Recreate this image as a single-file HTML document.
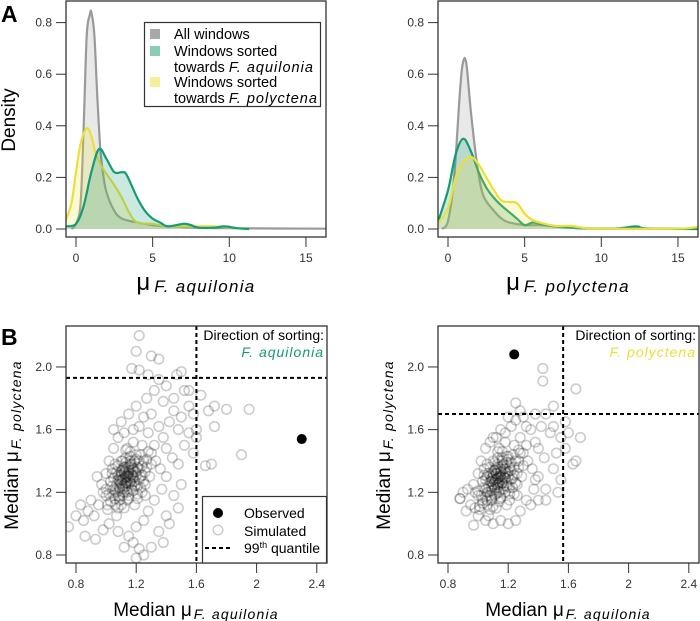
<!DOCTYPE html>
<html><head><meta charset="utf-8">
<style>
html,body{margin:0;padding:0;background:#fff;}
svg{display:block;font-family:"Liberation Sans",Arial,sans-serif;}
.tk{font-size:12px;fill:#333;}
</style></head>
<body>
<svg id="fig" width="700" height="621" viewBox="0 0 700 621" xmlns="http://www.w3.org/2000/svg">
<text x="1" y="22" font-size="23" font-weight="bold">A</text>
<text x="1" y="345" font-size="23" font-weight="bold">B</text>
<g id="layer"></g>
</svg>
<script>
// ---- density data (panel A) ----
const xAllA = [-0.3,0,0.3,0.5,0.7,0.9,1.0,1.2,1.4,1.6,1.8,2.0,2.5,3,4,5,6,8,10,16.4];
const yAllA = [0,0.02,0.1,0.4,0.75,0.83,0.84,0.75,0.5,0.3,0.2,0.14,0.07,0.04,0.025,0.015,0.01,0.005,0.003,0.001];
const xPolA = [-0.7,-0.3,0,0.3,0.7,1.0,1.3,1.8,2.5,3,3.5,4,5,6,7,8,9,10,11];
const yPolA = [0.03,0.1,0.22,0.33,0.39,0.36,0.29,0.23,0.17,0.12,0.06,0.025,0.02,0.01,0.01,0.01,0.01,0.005,0.003];
const xAquA = [-0.7,0,0.5,1,1.5,2,2.5,3,3.3,4,4.5,5,5.5,6,7,7.5,8,9,9.7,10.5,11.3];
const yAquA = [0.01,0.02,0.09,0.22,0.31,0.27,0.22,0.22,0.21,0.12,0.07,0.04,0.025,0.01,0.02,0.015,0.005,0.005,0.01,0.003,0];
// ---- density data (panel A right) ----
const xAllB = [-0.4,0,0.4,0.8,1.0,1.2,1.5,1.9,2.3,3,3.5,4,5,6,7,8,10,16.4];
const yAllB = [0,0.03,0.2,0.55,0.65,0.64,0.45,0.25,0.13,0.07,0.04,0.025,0.015,0.015,0.01,0.005,0.002,0];
const xAquB = [-0.7,0,0.5,1,1.5,2,2.5,3,3.5,4,4.5,5,5.5,6,7,8,9,11,12.3,13,16.4];
const yAquB = [0.02,0.15,0.29,0.35,0.3,0.22,0.16,0.12,0.09,0.065,0.04,0.015,0.025,0.02,0.01,0.005,0.002,0.002,0.01,0.002,0];
const xPolB = [-0.7,0,0.5,1,1.5,2,2.5,3,3.5,4,4.5,5,5.5,6,7,8,9,10,15,16.4];
const yPolB = [0.02,0.08,0.2,0.26,0.28,0.25,0.2,0.15,0.11,0.105,0.1,0.06,0.035,0.025,0.012,0.012,0.003,0.001,0.001,0.01];
const densXTicks = [0,5,10,15];
const densYTicks = ["0.0","0.2","0.4","0.6","0.8"];
// ---- scatter data (panel B) ----
const simLeft = [[1.15,1.30],[1.10,1.28],[1.20,1.33],[1.12,1.25],[1.18,1.35],[1.05,1.22],[1.25,1.40],[1.08,1.31],[1.14,1.20],[1.22,1.28],[1.00,1.18],[1.30,1.45],[1.17,1.38],[1.11,1.34],[1.09,1.15],[1.19,1.24],[1.13,1.42],[1.24,1.31],[1.03,1.27],[1.27,1.36],[1.06,1.12],[1.16,1.46],[1.21,1.19],[1.10,1.40],[0.98,1.20],[1.32,1.50],[1.12,1.10],[1.26,1.25],[1.04,1.35],[1.18,1.52],[1.07,1.05],[1.15,1.16],[1.23,1.44],[1.01,1.09],[1.29,1.30],[1.13,1.29],[1.16,1.26],[1.09,1.23],[1.20,1.41],[1.11,1.18],[0.95,1.12],[0.92,1.05],[0.90,1.15],[0.88,1.08],[0.97,1.25],[0.94,1.30],[1.02,1.40],[1.05,1.48],[1.08,1.55],[1.12,1.58],[1.18,1.60],[1.22,1.62],[1.25,1.68],[1.30,1.70],[1.28,1.58],[1.35,1.62],[1.38,1.55],[1.33,1.40],[1.36,1.35],[1.40,1.48],[1.42,1.65],[1.45,1.72],[1.48,1.60],[1.44,1.42],[1.40,1.30],[1.37,1.22],[1.32,1.15],[1.28,1.08],[1.25,1.02],[1.20,0.98],[1.15,0.92],[1.18,0.88],[1.22,0.84],[1.12,0.85],[1.08,0.95],[1.02,1.00],[0.98,0.96],[0.85,1.02],[0.83,1.12],[0.80,1.05],[0.75,0.98],[0.86,0.92],[0.93,0.90],[1.30,0.85],[1.20,0.78],[1.25,0.80],[1.35,0.95],[1.40,1.05],[1.45,1.18],[1.50,1.25],[1.48,1.38],[1.52,1.50],[1.55,1.58],[1.50,1.68],[1.55,1.75],[1.45,1.80],[1.38,1.78],[1.32,1.85],[1.27,1.80],[1.20,1.75],[1.15,1.70],[1.10,1.65],[1.05,1.60],[1.35,1.92],[1.28,1.95],[1.40,1.88],[1.47,1.95],[1.52,1.85],[1.22,1.98],[1.17,1.99],[1.30,2.07],[1.20,2.10],[1.22,2.20],[1.35,2.05],[1.50,1.97],[1.55,1.85],[1.58,1.70],[1.60,1.60],[1.63,1.82],[1.68,1.72],[1.72,1.75],[1.80,1.73],[1.95,1.73],[1.72,1.62],[1.90,1.44],[1.70,1.38],[1.66,1.37],[1.58,1.45],[1.60,1.55],[1.48,1.10],[1.42,1.00],[1.38,0.88],[1.00,1.32],[1.06,1.38],[1.14,1.48],[1.24,1.50],[1.26,1.18],[1.19,1.12],[1.07,1.20],[1.13,1.36],[1.17,1.22],[1.21,1.36],[1.09,1.27],[1.15,1.33],[1.11,1.22],[1.14,1.26],[1.18,1.29],[1.12,1.32],[1.16,1.40],[1.08,1.18],[1.23,1.23]];
const coreLeft = [[1.13,1.30],[1.15,1.32],[1.11,1.28],[1.17,1.31],[1.14,1.27],[1.12,1.33],[1.16,1.29],[1.10,1.26],[1.18,1.34],[1.13,1.24],[1.09,1.30],[1.19,1.27],[1.15,1.36],[1.11,1.35],[1.14,1.22],[1.07,1.25],[1.20,1.31],[1.12,1.20],[1.16,1.38],[1.08,1.28],[1.22,1.35],[1.10,1.33],[1.17,1.25],[1.06,1.21],[1.13,1.39],[1.21,1.24],[1.05,1.29],[1.19,1.40],[1.09,1.17],[1.15,1.18],[1.23,1.30],[1.04,1.24],[1.18,1.21],[1.11,1.40],[1.24,1.37],[1.07,1.33],[1.14,1.15],[1.02,1.19],[1.20,1.44],[1.26,1.33],[1.03,1.14],[1.16,1.43],[1.10,1.12],[1.27,1.41],[1.08,1.37],[1.21,1.16],[1.00,1.22],[1.13,1.47],[1.25,1.27],[1.06,1.16],[1.12,1.29],[1.14,1.31],[1.16,1.27],[1.10,1.31],[1.18,1.30],[1.13,1.26],[1.15,1.34],[1.11,1.24],[1.17,1.36],[1.12,1.36],[1.09,1.22],[1.19,1.33],[1.05,1.18],[1.22,1.40],[1.08,1.10],[1.28,1.46],[1.01,1.12],[1.24,1.20],[1.04,1.32],[1.30,1.38]];
const simRight = [[1.15,1.30],[1.10,1.28],[1.20,1.33],[1.12,1.25],[1.18,1.35],[1.05,1.22],[1.25,1.40],[1.08,1.31],[1.14,1.20],[1.22,1.28],[1.00,1.18],[1.30,1.45],[1.17,1.38],[1.11,1.34],[1.09,1.15],[1.19,1.24],[1.13,1.42],[1.24,1.31],[1.03,1.27],[1.27,1.36],[1.06,1.12],[1.16,1.46],[1.21,1.19],[1.10,1.40],[0.98,1.20],[1.32,1.50],[1.12,1.10],[1.26,1.25],[1.04,1.35],[1.18,1.52],[1.07,1.05],[1.15,1.16],[1.23,1.44],[1.01,1.09],[1.29,1.30],[1.13,1.29],[1.16,1.26],[1.09,1.23],[1.20,1.41],[1.11,1.18],[0.95,1.12],[0.92,1.08],[0.90,1.20],[0.88,1.16],[0.97,1.25],[0.97,0.99],[1.02,1.40],[1.05,1.48],[1.08,1.52],[1.12,1.55],[1.18,1.58],[1.22,1.62],[1.25,1.66],[1.30,1.68],[1.28,1.55],[1.35,1.60],[1.38,1.52],[1.33,1.40],[1.36,1.35],[1.40,1.48],[1.42,1.62],[1.45,1.70],[1.48,1.58],[1.44,1.42],[1.40,1.30],[1.37,1.22],[1.32,1.15],[1.28,1.08],[1.25,1.02],[1.20,1.00],[1.15,1.02],[1.10,1.00],[1.05,1.02],[1.00,1.05],[0.98,1.10],[1.25,1.77],[1.50,1.75],[1.43,1.99],[1.43,1.91],[1.65,1.86],[1.68,1.55],[1.65,1.40],[1.63,1.38],[1.58,1.48],[1.55,1.55],[1.52,1.45],[1.50,1.35],[1.55,1.28],[1.45,1.22],[1.40,1.15],[1.35,1.12],[1.38,1.28],[1.32,1.62],[1.38,1.70],[1.28,1.72],[1.20,1.68],[1.15,1.60],[1.10,1.55],[1.50,1.62],[1.58,1.65],[1.60,1.58],[1.53,1.20],[1.45,1.15],[0.88,1.16],[0.93,1.22],[1.00,1.32],[1.06,1.38],[1.14,1.48],[1.24,1.50],[1.26,1.18],[1.19,1.12],[1.07,1.20],[1.13,1.36],[1.17,1.22],[1.21,1.36],[1.09,1.27],[1.15,1.33],[1.11,1.22],[1.14,1.26],[1.18,1.29],[1.12,1.32],[1.16,1.40],[1.08,1.18],[1.23,1.23],[1.03,1.15],[1.06,1.30],[1.19,1.43],[1.27,1.47]];
const coreRight = [[1.13,1.29],[1.15,1.31],[1.11,1.27],[1.17,1.30],[1.14,1.26],[1.12,1.32],[1.16,1.28],[1.10,1.25],[1.18,1.33],[1.13,1.23],[1.09,1.29],[1.19,1.26],[1.15,1.35],[1.11,1.34],[1.14,1.21],[1.07,1.24],[1.20,1.30],[1.12,1.19],[1.16,1.37],[1.08,1.27],[1.22,1.34],[1.10,1.32],[1.17,1.24],[1.06,1.20],[1.13,1.38],[1.21,1.23],[1.05,1.28],[1.19,1.39],[1.09,1.16],[1.15,1.17],[1.23,1.29],[1.04,1.23],[1.18,1.20],[1.11,1.39],[1.24,1.36],[1.07,1.32],[1.14,1.14],[1.02,1.18],[1.20,1.43],[1.26,1.32],[1.03,1.13],[1.16,1.42],[1.10,1.11],[1.27,1.40],[1.08,1.36],[1.21,1.15],[1.00,1.21],[1.13,1.46],[1.25,1.26],[1.06,1.15],[1.12,1.28],[1.14,1.30],[1.16,1.26],[1.10,1.30],[1.18,1.29],[1.13,1.25],[1.15,1.33],[1.11,1.23],[1.17,1.35],[1.12,1.35],[1.09,1.21],[1.19,1.32],[1.05,1.17],[1.22,1.39],[1.08,1.09],[1.28,1.45],[1.01,1.11],[1.24,1.19],[1.04,1.31],[1.30,1.37]];
const obsLeft = [2.30,1.54];
const obsRight = [1.24,2.08];
const thrLeft = [1.60,1.93];
const thrRight = [1.565,1.70];
const scatXTicks = ["0.8","1.2","1.6","2","2.4"];
const scatYTicks = ["0.8","1.2","1.6","2.0"];

const NS="http://www.w3.org/2000/svg";
const layer=document.getElementById('layer');
function mk(tag,attrs,parent){const e=document.createElementNS(NS,tag);for(const k in attrs)e.setAttribute(k,attrs[k]);(parent||layer).appendChild(e);return e;}

const GREEN="#149c73", YELLOW="#ebe03a", GRAY="#9a9a9a";

function smoothPath(P){
  let d='M'+P[0][0].toFixed(1)+','+P[0][1].toFixed(1);
  for(let i=0;i<P.length-1;i++){
    const p0=P[Math.max(0,i-1)],p1=P[i],p2=P[i+1],p3=P[Math.min(P.length-1,i+2)];
    const c1x=p1[0]+(p2[0]-p0[0])/6, c1y=Math.min(229,p1[1]+(p2[1]-p0[1])/6);
    const c2x=p2[0]-(p3[0]-p1[0])/6, c2y=Math.min(229,p2[1]-(p3[1]-p1[1])/6);
    d+='C'+c1x.toFixed(1)+','+c1y.toFixed(1)+' '+c2x.toFixed(1)+','+c2y.toFixed(1)+' '+p2[0].toFixed(1)+','+p2[1].toFixed(1);
  }
  return d;
}

function densPanel(ox, curves, xlabSub, nm){
  const L=ox, R=ox+260, T=1, B=237;
  const sx=v=>ox+10+(v)*15.33, sy=v=>229-v*258;
  const g=mk('g',{});
  
  
  const cp=mk('clipPath',{id:'clip'+nm},g); mk('rect',{x:L,y:T,width:R-L,height:B-T},cp);
  curves.forEach(c=>{
    const P=c.x.map((v,i)=>[sx(v),sy(c.y[i])]);
    const d=smoothPath(P);
    const clipd=d+'L'+sx(c.x[c.x.length-1]).toFixed(1)+','+sy(0)+'L'+sx(c.x[0]).toFixed(1)+','+sy(0)+'Z';
    const f=mk('path',{d:clipd,fill:c.col,'fill-opacity':0.22,stroke:'none','clip-path':'url(#clip'+nm+')'},g);
    
    
    const p=mk('path',{d:d,fill:'none',stroke:c.col,'stroke-width':2.2,'clip-path':'url(#clip'+nm+')'},g);
    
    
  });
  mk('rect',{x:L,y:T,width:R-L,height:B-T,fill:'none',stroke:'#333','stroke-width':1.3},g);
  densXTicks.forEach(t=>{const x=sx(t);mk('line',{x1:x,x2:x,y1:B,y2:B+10,stroke:'#333'},g);
    const tt=mk('text',{x:x,y:B+25,'text-anchor':'middle',class:'tk'},g);tt.textContent=t;
    });
  densYTicks.forEach(t=>{const y=sy(+t);mk('line',{x1:L,x2:L-10,y1:y,y2:y,stroke:'#333'},g);
    const tt=mk('text',{x:L-14,y:y+4,'text-anchor':'end',class:'tk'},g);tt.textContent=t;
    });
  const xl=mk('text',{x:ox+130,y:290,'text-anchor':'middle'},g);
  xl.innerHTML='<tspan font-size="24">μ</tspan><tspan font-size="17" font-style="italic" letter-spacing="1.3" dx="4" dy="2">'+xlabSub+'</tspan>';
  
  return g;
}

function scatPanel(ox, pts, core, obs, thr, nm){
  const L=ox, R=ox+261, T=326, B=563;
  const sx=v=>ox+10+(v-0.8)*150.5, sy=v=>555-(v-0.8)*156.7;
  const g=mk('g',{});
  
  
  const cp=mk('clipPath',{id:'clip'+nm},g); mk('rect',{x:L,y:T,width:R-L,height:B-T},cp);
  const pg=mk('g',{'clip-path':'url(#clip'+nm+')'},g);
  pts.concat(core).forEach(p=>{const c=mk('circle',{cx:sx(p[0]).toFixed(1),cy:sy(p[1]).toFixed(1),r:4.8,fill:'none',stroke:'#000','stroke-opacity':0.2,'stroke-width':1.6},pg);
    });
  const o=mk('circle',{cx:sx(obs[0]),cy:sy(obs[1]),r:5,fill:'#000'},g);
  
  const v=mk('line',{x1:sx(thr[0]),x2:sx(thr[0]),y1:T,y2:B,stroke:'#000','stroke-width':2,'stroke-dasharray':'4,3'},g);
  
  const h=mk('line',{x1:L,x2:R,y1:sy(thr[1]),y2:sy(thr[1]),stroke:'#000','stroke-width':2,'stroke-dasharray':'4,3'},g);
  
  mk('rect',{x:L,y:T,width:R-L,height:B-T,fill:'none',stroke:'#333','stroke-width':1.3},g);
  scatXTicks.forEach(t=>{const x=sx(+t);mk('line',{x1:x,x2:x,y1:B,y2:B+10,stroke:'#333'},g);
    const tt=mk('text',{x:x,y:B+25,'text-anchor':'middle',class:'tk'},g);tt.textContent=t;
    });
  scatYTicks.forEach(t=>{const y=sy(+t);mk('line',{x1:L,x2:L-10,y1:y,y2:y,stroke:'#333'},g);
    const tt=mk('text',{x:L-14,y:y+4,'text-anchor':'end',class:'tk'},g);tt.textContent=t;
    });
  const xl=mk('text',{x:ox+130,y:616,'text-anchor':'middle'},g);
  xl.innerHTML='<tspan font-size="19">Median μ</tspan><tspan font-size="14" font-style="italic" letter-spacing="1.2" dx="2" dy="3">F. aquilonia</tspan>';
  
  const yl=mk('text',{x:0,y:0,'text-anchor':'middle',transform:'translate('+(ox-48)+',445) rotate(-90)'},g);
  yl.innerHTML='<tspan font-size="19">Median μ</tspan><tspan font-size="14" font-style="italic" letter-spacing="1.2" dx="2" dy="3">F. polyctena</tspan>';
  
  return {g,R,T};
}

densPanel(66,[
  {x:xAllA,y:yAllA,col:GRAY,name:'all-windows'},
  {x:xPolA,y:yPolA,col:YELLOW,name:'polyctena-windows'},
  {x:xAquA,y:yAquA,col:GREEN,name:'aquilonia-windows'}],'F. aquilonia','density-left');
densPanel(438,[
  {x:xAllB,y:yAllB,col:GRAY,name:'all-windows'},
  {x:xAquB,y:yAquB,col:GREEN,name:'aquilonia-windows'},
  {x:xPolB,y:yPolB,col:YELLOW,name:'polyctena-windows'}],'F. polyctena','density-right');

const dl=mk('text',{x:0,y:0,'text-anchor':'middle','font-size':19,transform:'translate(15,120) rotate(-90)'});
dl.textContent='Density';


// legend A
const lg=mk('g',{});


mk('rect',{x:144.5,y:22.5,width:176,height:84,fill:'#fff',stroke:'#333','stroke-width':1.2},lg);
[[GRAY,29,'All windows',null],[GREEN,46,'Windows sorted','F. aquilonia'],[YELLOW,77,'Windows sorted','F. polyctena']].forEach((e,i)=>{
  mk('rect',{x:150,y:e[1],width:10,height:10,fill:e[0],'fill-opacity':e[0]==GRAY?0.85:0.5},lg);
  const t=mk('text',{x:174,y:e[1]+10,'font-size':14.5},lg);t.textContent=e[2];
  
  if(e[3]){const t2=mk('text',{x:174,y:e[1]+26,'font-size':14.5},lg);
    t2.innerHTML='towards <tspan font-style="italic" letter-spacing="1">'+e[3]+'</tspan>';
    }
});

const sL=scatPanel(66,simLeft,coreLeft,obsLeft,thrLeft,'scatter-left');
const sR=scatPanel(438,simRight,coreRight,obsRight,thrRight,'scatter-right');
[[sL,'F. aquilonia',GREEN],[sR,'F. polyctena',YELLOW]].forEach(a=>{
  const t=mk('text',{x:a[0].R-3,y:340,'text-anchor':'end','font-size':14});t.textContent='Direction of sorting:';
  
  const t2=mk('text',{x:a[0].R-3,y:357,'text-anchor':'end','font-size':14,'font-style':'italic','letter-spacing':1,fill:a[2]});t2.textContent=a[1];
  
});
// legend B
const lb=mk('g',{});


mk('rect',{x:202.5,y:496.5,width:124,height:66.5,fill:'#fff',stroke:'#333','stroke-width':1.2},lb);
mk('circle',{cx:218,cy:513,r:5,fill:'#000'},lb);
mk('circle',{cx:218,cy:530,r:4.8,fill:'none',stroke:'#000','stroke-opacity':0.2,'stroke-width':1.5},lb);
mk('line',{x1:205,x2:232,y1:548,y2:548,stroke:'#000','stroke-width':2,'stroke-dasharray':'4,3'},lb);
const lt1=mk('text',{x:244,y:518,'font-size':14},lb);lt1.textContent='Observed';

const lt2=mk('text',{x:244,y:536,'font-size':14},lb);lt2.textContent='Simulated';

const lt3=mk('text',{x:244,y:553,'font-size':14},lb);lt3.innerHTML='99<tspan font-size="9" dy="-5">th</tspan><tspan dy="5"> quantile</tspan>';

</script>
</body></html>
